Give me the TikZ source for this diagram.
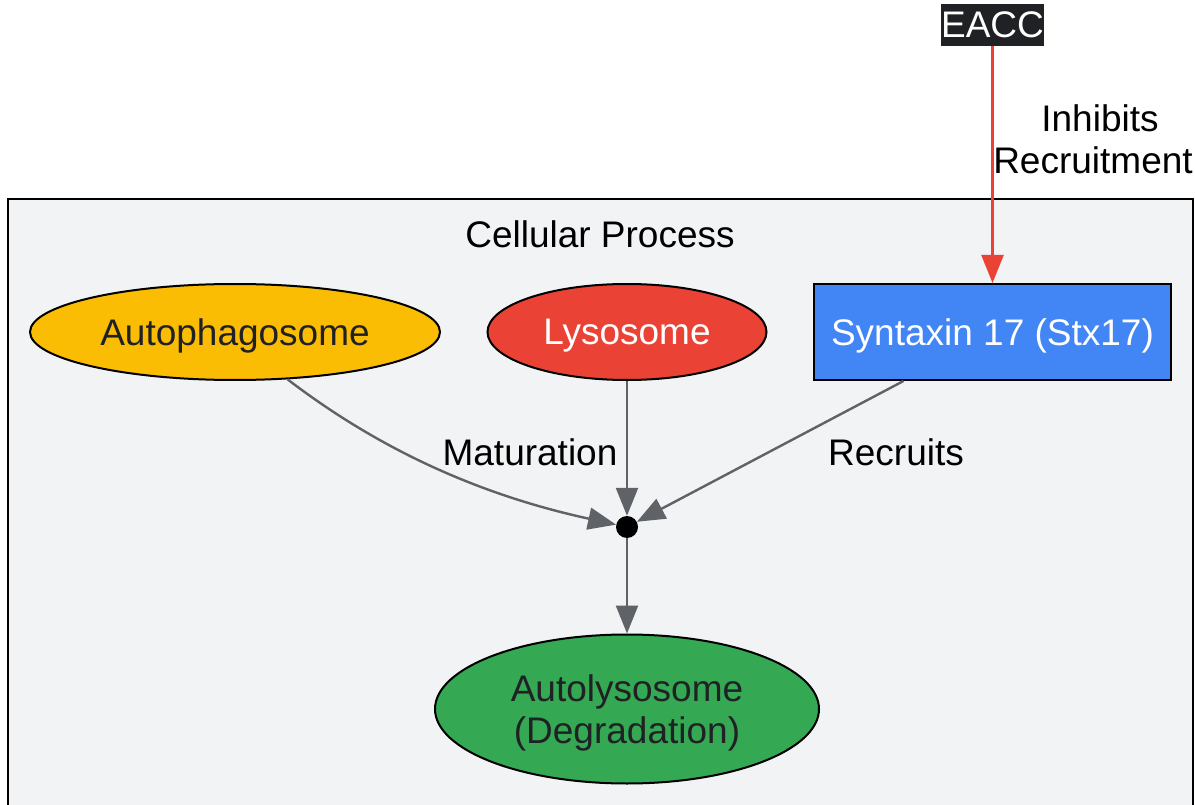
\documentclass[tikz,border=0pt]{standalone}
\usepackage{fontspec}
\setmainfont{Liberation Sans}
\usetikzlibrary{shapes.geometric,arrows.meta}
\definecolor{gyellow}{HTML}{FBBC04}
\definecolor{gred}{HTML}{EA4335}
\definecolor{gblue}{HTML}{4285F4}
\definecolor{ggreen}{HTML}{34A853}
\definecolor{gbg}{HTML}{F1F3F4}
\definecolor{gdark}{HTML}{202124}
\definecolor{gedge}{HTML}{5F6368}
\begin{document}
\begin{tikzpicture}[x=1pt,y=-1pt,
  every node/.style={font=\fontsize{37}{42}\selectfont, inner sep=0pt, align=center},
  ell/.style={ellipse, draw=black, line width=2pt, text depth=0pt},
  edge/.style={draw=gedge, line width=2.4pt, -{Triangle[length=28pt,width=22pt]}},
  lbl/.style={text=black}]
\useasboundingbox (0,0) rectangle (1195,805);
\fill[white] (0,0) rectangle (1195,805);
% cluster
\draw[fill=gbg, draw=black, line width=2.5pt] (8,199) rectangle (1193,812);
\node[lbl] (title) at (600,234) {Cellular Process};
% nodes
\node[ell, fill=gyellow, text=gdark, minimum width=410pt, minimum height=96pt] (auto) at (235,332) {Autophagosome};
\node[ell, fill=gred, text=white, minimum width=279pt, minimum height=96pt] (lyso) at (627,332) {Lysosome};
\node[draw=black, line width=2pt, fill=gblue, text=white, text depth=0pt, minimum width=357pt, minimum height=96pt] (stx) at (992.5,332) {Syntaxin 17 (Stx17)};
\node[circle, fill=black, minimum size=22pt] (dot) at (627,527) {};
\node[ell, fill=ggreen, text=gdark, minimum width=384pt, minimum height=149pt] (autoly) at (627,709) {Autolysosome\\(Degradation)};
\node[fill=gdark, text=white, minimum width=101pt, minimum height=42pt] (eacc) at (992.5,25) {EACC};
\coordinate (s1) at ([xshift=-89pt]stx.south);
% edges
\draw[edge] (auto.-42) .. controls (380,450) and (480,495) .. (dot);
\draw[edge] (lyso) -- (dot);
\draw[edge] (s1) -- (dot);
\draw[edge] (dot) -- (autoly);
\draw[draw=gred, line width=2.4pt, -{Triangle[length=28pt,width=22pt]}] (eacc) -- (stx.north -| eacc);
% labels
\node[lbl] (mat) at (530,452) {Maturation};
\node[lbl] (rec) at (896,452) {Recruits};
\node[lbl] (inh) at (1093,139) {\hspace*{14pt}Inhibits\\Recruitment};
\end{tikzpicture}
\end{document}
